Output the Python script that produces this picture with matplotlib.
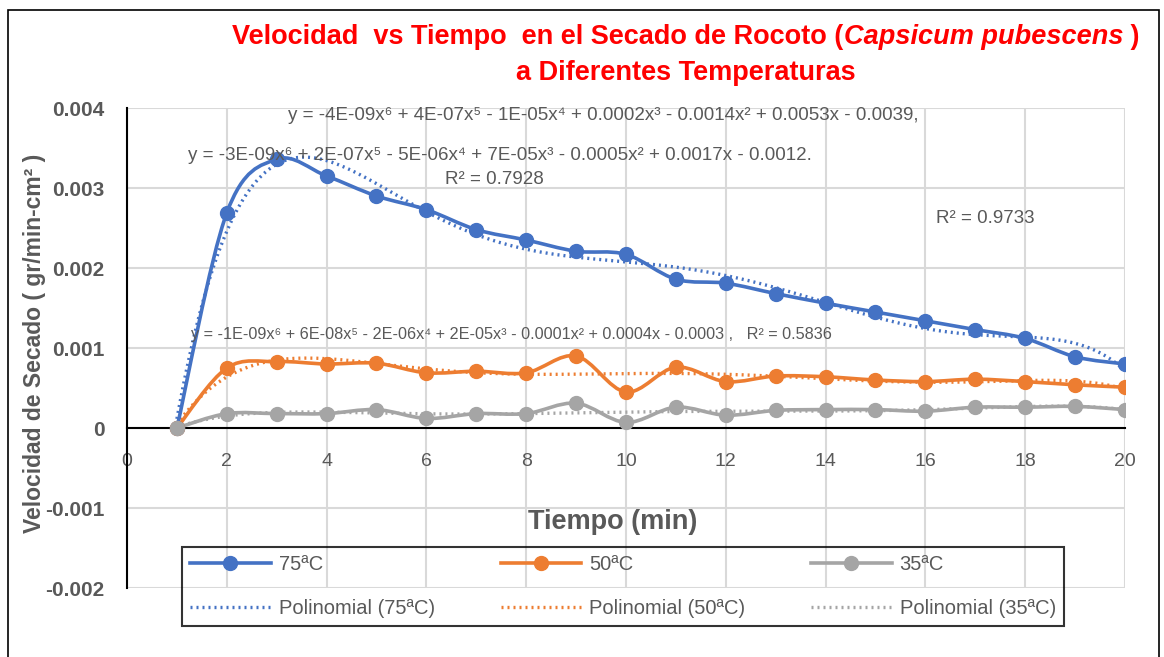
import matplotlib
matplotlib.use("Agg")
import matplotlib.pyplot as plt
import numpy as np
from matplotlib.path import Path
from matplotlib.patches import PathPatch, Rectangle
from matplotlib.lines import Line2D

# datos
tiempo = list(range(1, 21))
v75 = [0.0, 0.00269, 0.00336, 0.00315, 0.00290, 0.00273, 0.00248, 0.00235, 0.00221, 0.00217,
       0.00186, 0.00181, 0.00168, 0.00156, 0.00145, 0.00134, 0.00123, 0.00112, 0.00089, 0.00080]
v50 = [0.0, 0.00075, 0.00083, 0.00080, 0.00081, 0.00069, 0.00071, 0.00069, 0.00090, 0.00045,
       0.00076, 0.00058, 0.00065, 0.00064, 0.00060, 0.00058, 0.00061, 0.00058, 0.00054, 0.00051]
v35 = [0.0, 0.00018, 0.00018, 0.00018, 0.00023, 0.00012, 0.00018, 0.00018, 0.00031, 0.00007,
       0.00026, 0.00016, 0.00022, 0.00023, 0.00023, 0.00021, 0.00026, 0.00026, 0.00027, 0.00023]
series_names = ["75ªC", "50ªC", "35ªC"]
colores = ["#4472C4", "#ED7D31", "#A5A5A5"]

xticks = list(range(0, 21, 2))
yticks = [-0.002, -0.001, 0, 0.001, 0.002, 0.003, 0.004]
ytick_labels = ["-0.002", "-0.001", "0", "0.001", "0.002", "0.003", "0.004"]

ecuaciones = [
    "y = -4E-09x⁶ + 4E-07x⁵ - 1E-05x⁴ + 0.0002x³ - 0.0014x² + 0.0053x - 0.0039,",
    "y = -3E-09x⁶ + 2E-07x⁵ - 5E-06x⁴ + 7E-05x³ - 0.0005x² + 0.0017x - 0.0012.",
    "R² = 0.7928",
    "R² = 0.9733",
    "y = -1E-09x⁶ + 6E-08x⁵ - 2E-06x⁴ + 2E-05x³ - 0.0001x² + 0.0004x - 0.0003 ,   R² = 0.5836",
]

FONT = ["Liberation Sans", "DejaVu Sans"]
GRIS = "#595959"


def smooth_path(x, y):
    """Curva suavizada tipo Excel (Bezier cúbica por tramos)."""
    x = np.asarray(x, float)
    y = np.asarray(y, float)
    n = len(x)
    verts = [(x[0], y[0])]
    codes = [Path.MOVETO]
    for i in range(n - 1):
        x0, y0 = (x[i - 1], y[i - 1]) if i > 0 else (x[i], y[i])
        x3, y3 = (x[i + 2], y[i + 2]) if i + 2 < n else (x[i + 1], y[i + 1])
        c1 = (x[i] + (x[i + 1] - x0) / 6, y[i] + (y[i + 1] - y0) / 6)
        c2 = (x[i + 1] - (x3 - x[i]) / 6, y[i + 1] - (y3 - y[i]) / 6)
        verts += [c1, c2, (x[i + 1], y[i + 1])]
        codes += [Path.CURVE4] * 3
    return Path(verts, codes)


fig = plt.figure(figsize=(11.64, 6.57), dpi=100)
plt.rcParams["font.family"] = FONT
ax = fig.add_axes([127 / 1164, 1 - 588 / 657, (1125 - 127) / 1164, (588 - 108) / 657])

ax.set_xlim(0, 20)
ax.set_ylim(-0.002, 0.004)
ax.set_xticks(xticks)
ax.set_yticks(yticks)
ax.set_yticklabels(ytick_labels, fontsize=15, fontweight="bold", color=GRIS)
ax.tick_params(axis="x", labelsize=14, colors=GRIS, length=0, pad=18)
ax.tick_params(axis="y", length=0, pad=16)
ax.grid(True, color="#D9D9D9", linewidth=1.5, zorder=0)
for s in ["top", "right"]:
    ax.spines[s].set_visible(False)
ax.spines["bottom"].set_position(("data", 0))
ax.spines["bottom"].set_linewidth(1.5)
ax.spines["left"].set_linewidth(1.5)
ax.set_axisbelow(True)

datos = [v75, v50, v35]
xfit = np.linspace(1, 20, 300)
for nombre, vals, col in zip(series_names, datos, colores):
    coef = np.polyfit(tiempo, vals, 6)
    ax.plot(xfit, np.polyval(coef, xfit), linestyle=(0, (0.6, 1.2)), color=col,
            linewidth=2.4, zorder=3, dash_capstyle="butt")
    ax.add_patch(PathPatch(smooth_path(tiempo, vals), facecolor="none", edgecolor=col,
                           linewidth=2.6, zorder=4))
    ax.plot(tiempo, vals, linestyle="none", marker="o", markersize=10, color=col, zorder=5)

# etiquetas de tendencia
kw = dict(fontsize=13.5, color=GRIS, va="center", ha="left")
fig.text(288 / 1164, 1 - 116 / 657, ecuaciones[0], **kw)
fig.text(188 / 1164, 1 - 156 / 657, ecuaciones[1], **kw)
fig.text(445 / 1164, 1 - 180 / 657, ecuaciones[2], **kw)
fig.text(936 / 1164, 1 - 219 / 657, ecuaciones[3], **kw)
fig.text(191 / 1164, 1 - 334 / 657, ecuaciones[4], fontsize=11.7, color=GRIS,
         va="center", ha="left")

# ejes
ax.text(0.487, (588 - 522) / 480, "Tiempo (min)", transform=ax.transAxes, ha="center",
        va="center", fontsize=19.5, fontweight="bold", color=GRIS)
fig.text(35 / 1164, 1 - 343 / 657, "Velocidad de Secado ( gr/min-cm² )", rotation=90,
         ha="center", va="center", fontsize=16.5, fontweight="bold", color=GRIS)

# leyenda
hs = []
for nombre, col in zip(series_names, colores):
    hs.append(Line2D([], [], color=col, linewidth=2.6, marker="o", markersize=10))
    hs.append(Line2D([], [], color=col, linewidth=2.4, linestyle=(0, (0.6, 1.2))))
labels = []
for nombre in series_names:
    labels += [nombre, f"Polinomial ({nombre})"]
leg = fig.legend(hs, labels, ncol=3, loc="center",
                 bbox_to_anchor=(172 / 1164, 1 - 630 / 657, (1074 - 172) / 1164, 87 / 657),
                 mode="expand", fontsize=14.5, handlelength=4.0, frameon=True, fancybox=False,
                 edgecolor="black", facecolor="none", labelcolor=GRIS, borderpad=0.4,
                 labelspacing=1.25, handletextpad=0.4)
leg.get_frame().set_linewidth(1.5)

# título con parte en cursiva
fig.canvas.draw()
renderer = fig.canvas.get_renderer()
partes = [("Velocidad  vs Tiempo  en el Secado de Rocoto (", "normal"),
          ("Capsicum pubescens", "italic"),
          (" )", "normal")]
tt = []
for txt, st in partes:
    t = fig.text(0, 1 - 37 / 657, txt, fontsize=19.5, fontweight="bold", style=st,
                 color="red", va="center", ha="left")
    tt.append(t)
anchos = [t.get_window_extent(renderer).width for t in tt]
x0 = 686 - sum(anchos) / 2
for t, w in zip(tt, anchos):
    t.set_x(x0 / 1164)
    x0 += w
fig.text(686 / 1164, 1 - 73 / 657, "a Diferentes Temperaturas", fontsize=19.5,
         fontweight="bold", color="red", ha="center", va="center")

# borde del gráfico
fig.patches.append(Rectangle((8 / 1164, -0.01), 1151 / 1164, 1 - 10 / 657 + 0.01,
                             transform=fig.transFigure, fill=False, edgecolor="black",
                             linewidth=1.2))

fig.savefig("out.png", dpi=100)
